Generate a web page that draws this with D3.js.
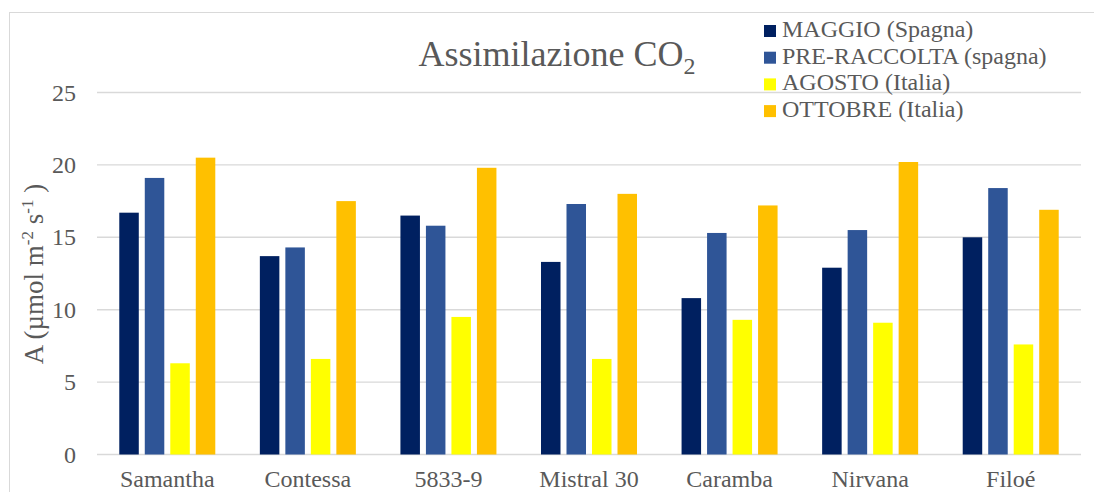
<!DOCTYPE html>
<html>
<head>
<meta charset="utf-8">
<script src="https://cdn.jsdelivr.net/npm/d3@7"></script>
<style>
  html, body { margin: 0; padding: 0; background: #fff; }
  svg { display: block; }
  text { font-family: "Liberation Serif", "Times New Roman", serif; fill: #595959; }
</style>
</head>
<body>
<svg id="chart" width="1094" height="492"></svg>
<script>
// Varieties on the x axis
const categories = ["Samantha", "Contessa", "5833-9", "Mistral 30", "Caramba", "Nirvana", "Filoé"];
// Sampling campaigns (legend entries)
const seriesNames = ["MAGGIO (Spagna)", "PRE-RACCOLTA (spagna)", "AGOSTO (Italia)", "OTTOBRE (Italia)"];
const seriesColors = ["#002060", "#2F5597", "#FFFF00", "#FFC000"];
// CO2 assimilation, µmol m-2 s-1
const maggio      = [16.7, 13.7, 16.5, 13.3, 10.8, 12.9, 15.0];
const preRaccolta = [19.1, 14.3, 15.8, 17.3, 15.3, 15.5, 18.4];
const agosto      = [6.3, 6.6, 9.5, 6.6, 9.3, 9.1, 7.6];
const ottobre     = [20.5, 17.5, 19.8, 18.0, 17.2, 20.2, 16.9];
const yTicks = [0, 5, 10, 15, 20, 25];

const seriesValues = [maggio, preRaccolta, agosto, ottobre];

const svg = d3.select("#chart");

// chart area frame
svg.append("rect")
  .attr("x", 9.5).attr("y", 12.5)
  .attr("width", 1200).attr("height", 600)
  .attr("fill", "none").attr("stroke", "#d9d9d9").attr("stroke-width", 1);

const plotLeft = 97, plotRight = 1081;
const y = d3.scaleLinear().domain([0, 25]).range([454.5, 92.5]);
const x0 = d3.scaleBand().domain(categories).range([plotLeft, plotRight]).padding(0);
const groupW = 102;
const x1 = d3.scaleBand().domain(seriesNames)
  .range([x0.bandwidth() / 2 - groupW / 2, x0.bandwidth() / 2 + groupW / 2])
  .paddingInner(0.235).paddingOuter(0.1175);

// horizontal gridlines
svg.append("g")
  .selectAll("line")
  .data(yTicks)
  .join("line")
  .attr("x1", plotLeft).attr("x2", plotRight)
  .attr("y1", d => y(d)).attr("y2", d => y(d))
  .attr("stroke", "#d9d9d9").attr("stroke-width", 1.4);

// y tick labels
svg.append("g")
  .selectAll("text")
  .data(yTicks)
  .join("text")
  .attr("x", 76)
  .attr("y", d => y(d) + 8)
  .attr("text-anchor", "end")
  .attr("font-size", 24)
  .text(d => d);

// bars
const groups = svg.append("g")
  .selectAll("g")
  .data(categories)
  .join("g")
  .attr("transform", d => `translate(${x0(d)},0)`);

groups.selectAll("rect")
  .data((c, ci) => seriesNames.map((s, si) => ({ s, si, v: seriesValues[si][ci] })))
  .join("rect")
  .attr("x", d => x1(d.s))
  .attr("width", x1.bandwidth())
  .attr("y", d => y(d.v))
  .attr("height", d => y(0) - y(d.v))
  .attr("fill", d => seriesColors[d.si]);

// x category labels
svg.append("g")
  .selectAll("text")
  .data(categories)
  .join("text")
  .attr("x", d => x0(d) + x0.bandwidth() / 2)
  .attr("y", 487)
  .attr("text-anchor", "middle")
  .attr("font-size", 24)
  .text(d => d);

// y axis title
const yTitle = svg.append("text")
  .attr("transform", "translate(43,274) rotate(-90)")
  .attr("text-anchor", "middle")
  .attr("font-size", 27);
yTitle.append("tspan").text("A (µmol m");
yTitle.append("tspan").attr("font-size", 17).attr("dy", -10).text("-2");
yTitle.append("tspan").attr("dy", 10).text(" s");
yTitle.append("tspan").attr("font-size", 17).attr("dy", -10).text("-1");
yTitle.append("tspan").attr("dy", 10).text(" )");

// chart title
const title = svg.append("text")
  .attr("x", 557).attr("y", 66)
  .attr("text-anchor", "middle")
  .attr("font-size", 36);
title.append("tspan").text("Assimilazione CO");
title.append("tspan").attr("font-size", 24).attr("dy", 8).text("2");

// legend
const legend = svg.append("g")
  .selectAll("g")
  .data(seriesNames)
  .join("g")
  .attr("transform", (d, i) => `translate(764,${37 + i * 26.7})`);
legend.append("rect")
  .attr("x", 0).attr("y", -12)
  .attr("width", 12).attr("height", 12)
  .attr("fill", (d, i) => seriesColors[i]);
legend.append("text")
  .attr("x", 18).attr("y", 0)
  .attr("font-size", 24)
  .text(d => d);
</script>
</body>
</html>
